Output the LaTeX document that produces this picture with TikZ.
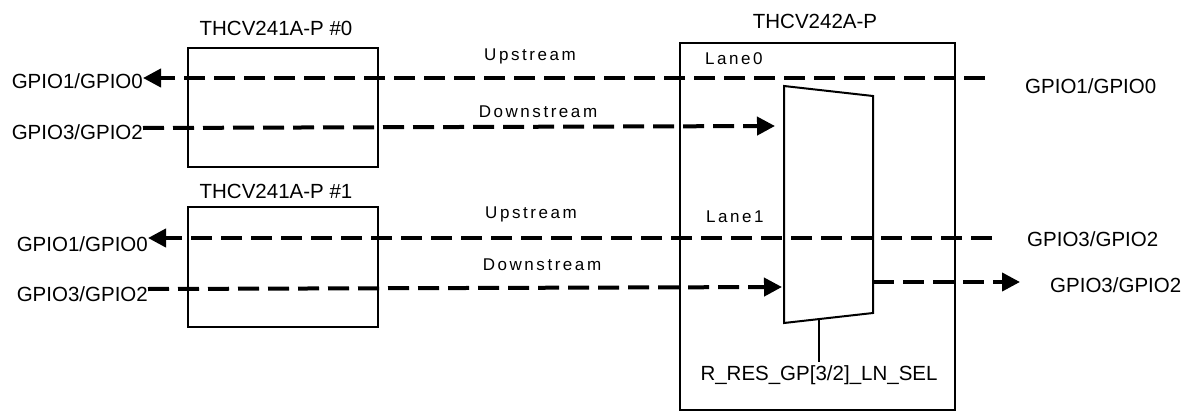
\documentclass[tikz,border=0pt]{standalone}
\usepackage{fontspec}
\setmainfont{Liberation Sans}
\usetikzlibrary{arrows.meta}
\begin{document}
\begin{tikzpicture}[x=1pt,y=-1pt,
  blk/.style={draw,line width=2pt},
  sig/.style={line width=4pt,dash pattern=on 21pt off 9pt},
  arr/.style={sig,-{Triangle[length=18pt,width=18pt]}},
  lbl/.style={inner sep=0pt,font=\fontsize{20.5}{22}\selectfont,text depth=0pt},
  sml/.style={inner sep=0pt,font=\fontsize{17}{19}\selectfont\addfontfeature{LetterSpace=15},text depth=0pt}]
\useasboundingbox (0,0) rectangle (1198,412);
% boxes
\draw[blk] (188,48) rectangle (378,167);
\draw[blk] (188,207) rectangle (378,327);
\draw[blk] (680,43) rectangle (955,410);
\node[lbl] (t0) at (276,28) {THCV241A-P \#0};
\node[lbl] (t1) at (276,191) {THCV241A-P \#1};
\node[lbl] (t2) at (815,21) {THCV242A-P};
\node[sml,anchor=west] (ln0) at (705,59) {Lane0};
\node[sml,anchor=west] (ln1) at (706,217) {Lane1};
% mux
\draw[blk,fill=white] (784,86) coordinate (m1) -- (873,96) coordinate (m2) -- (873,313) coordinate (m3) -- (784,323) coordinate (m4) -- cycle;
\coordinate (sel) at (819,318);
\node[lbl] (seltxt) at (819,373) {R\_RES\_GP[3/2]\_LN\_SEL};
\draw[line width=2pt] (sel) -- (819,362);
% texts
\node[lbl,anchor=east] (l0u) at (143,81) {GPIO1/GPIO0};
\node[lbl,anchor=east] (l0d) at (143,132) {GPIO3/GPIO2};
\node[lbl,anchor=east] (l1u) at (148,244) {GPIO1/GPIO0};
\node[lbl,anchor=east] (l1d) at (148,294) {GPIO3/GPIO2};
\node[lbl,anchor=west] (r0u) at (1025,86) {GPIO1/GPIO0};
\node[lbl,anchor=west] (r1u) at (1027,239) {GPIO3/GPIO2};
\node[lbl,anchor=west] (r1d) at (1050,285) {GPIO3/GPIO2};
\node[sml] (up0) at (530,55) {Upstream};
\node[sml] (dn0) at (538,112) {Downstream};
\node[sml] (up1) at (531,213) {Upstream};
\node[sml] (dn1) at (542,265) {Downstream};
% coordinates
\coordinate (e0u) at (985,78);
\coordinate (e1u) at (992,238);
\coordinate (a0) at (775,126);
\coordinate (a1) at (782,287);
\coordinate (o1) at (1020,282);
% signals
\draw[arr] (e0u) -- (l0u.east |- 0,78);
\draw[arr] (l0d.east |- 0,128) -- (a0);
\draw[arr] (e1u) -- (l1u.east |- 0,238);
\draw[arr] (l1d.east |- 0,289) -- (a1);
\draw[arr] (873,282) -- (o1);
\end{tikzpicture}
\end{document}
